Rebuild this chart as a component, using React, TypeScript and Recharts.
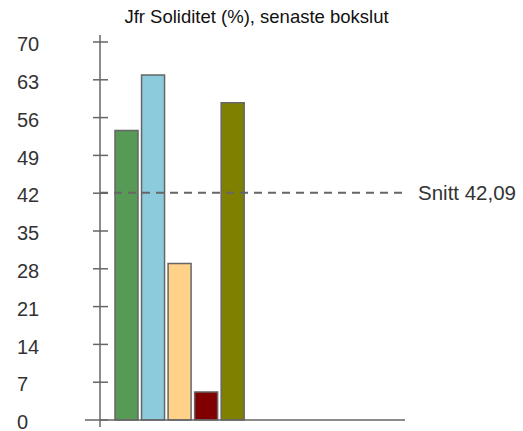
import React from 'react';
import { BarChart, Bar, Cell, XAxis, YAxis, ReferenceLine } from 'recharts';

const categories = ['A', 'B', 'C', 'D', 'E', 'F', 'G', 'H', 'I', 'J', 'K'];
const values: (number | null)[] = [53.6, 63.9, 29.0, 5.2, 58.75, null, null, null, null, null, null];
const barColors = ['#579a56', '#8ccbdc', '#ffd189', '#800000', '#808000'];
const yTicks = [0, 7, 14, 21, 28, 35, 42, 49, 56, 63, 70];
const average = 42.09;
const averageLabel = 'Snitt 42,09';
const title = 'Jfr Soliditet (%), senaste bokslut';

const data = categories.map((name, i) => ({ name, value: values[i] }));

const AXIS = '#666666';
const TEXT = '#333333';
const FONT = 'Liberation Sans, Arial, sans-serif';

function YTick(props: any) {
  const { x, y, payload } = props;
  const isZero = payload.value === 0;
  return (
    <g>
      <line x1={x - (isZero ? 15 : 7)} x2={x + 8} y1={y} y2={y} stroke={AXIS} strokeWidth={1.5} />
      <text x={x - 83} y={y} dy="0.46em" textAnchor="start" fill={TEXT} fontSize={20} fontFamily={FONT}>
        {payload.value}
      </text>
    </g>
  );
}

export default function App() {
  return (
    <div style={{ position: 'absolute', left: 0, top: 0, width: 523, height: 431, background: '#fff' }}>
      <svg width={523} height={30} style={{ position: 'absolute', left: 0, top: 0 }}>
        <text x={256.5} y={23} textAnchor="middle" fontFamily={FONT} fontSize={18.5} fill="#111">
          {title}
        </text>
      </svg>
      <BarChart width={523} height={431} data={data} margin={{ top: 35, right: 118, bottom: 4, left: 0 }}>
        <XAxis dataKey="name" hide padding={{ left: 13, right: 0 }} />
        <YAxis
          width={100}
          type="number"
          domain={[-7 / 5.4, 70 + 7 / 5.4]}
          ticks={yTicks}
          interval={0}
          tickSize={0}
          tickMargin={0}
          tick={<YTick />}
          axisLine={{ stroke: AXIS, strokeWidth: 1.5 }}
          tickLine={false}
          allowDataOverflow
        />
        <Bar dataKey="value" barSize={23} stroke={AXIS} strokeWidth={1.5} isAnimationActive={false}>
          {data.map((d, i) => (
            <Cell key={d.name} fill={barColors[i % barColors.length]} />
          ))}
        </Bar>
        <ReferenceLine y={0} stroke={AXIS} strokeWidth={1.5} />
        <ReferenceLine
          y={average}
          stroke={AXIS}
          strokeWidth={2}
          strokeDasharray="8 6"
          label={{ value: averageLabel, position: 'right', offset: 13, fill: TEXT, fontSize: 20.5, fontFamily: FONT }}
        />
      </BarChart>
    </div>
  );
}
